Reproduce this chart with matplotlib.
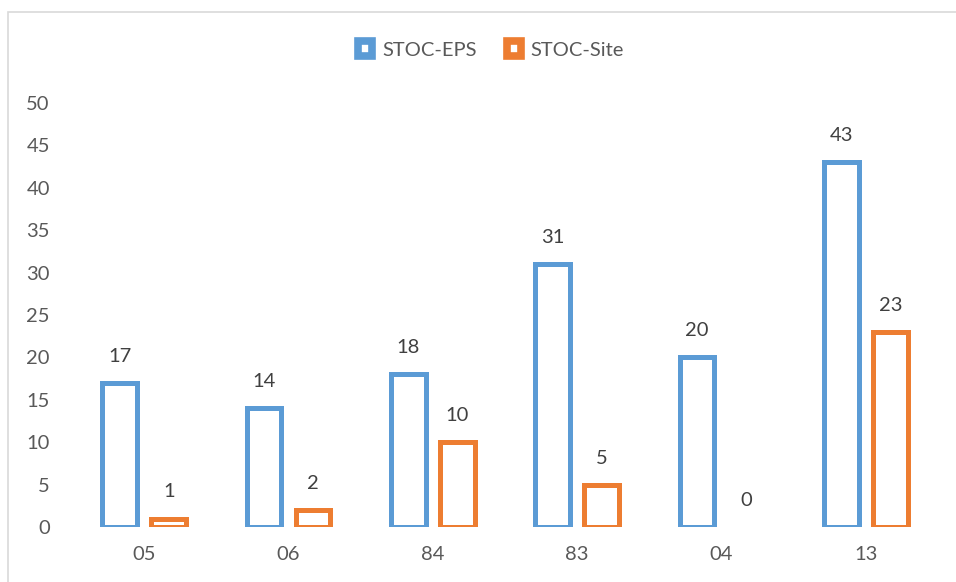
import matplotlib
matplotlib.use("Agg")
import matplotlib.pyplot as plt
import numpy as np
from matplotlib.patches import Rectangle, Patch

categories = ["05", "06", "84", "83", "04", "13"]
eps = [17, 14, 18, 31, 20, 43]
site = [1, 2, 10, 5, 0, 23]
series_names = ["STOC-EPS", "STOC-Site"]
yticks = [0, 5, 10, 15, 20, 25, 30, 35, 40, 45, 50]

blue = "#5B9BD5"
orange = "#ED7D31"
plt.rcParams['font.family'] = ['Lato', 'DejaVu Sans']

fig = plt.figure(figsize=(9.56, 5.82), dpi=100)
ax = fig.add_axes([72/956, 1-527/582, (938-72)/956, (527-103)/582])

# figure border
fig.patches.append(Rectangle((8/956, -0.1), 1.2, 1-12/582+0.1, transform=fig.transFigure,
                             fill=False, edgecolor="#D9D9D9", linewidth=1.2))

x = np.arange(len(categories))
w = 0.24
off = 0.17
lw = 3.6
b1 = ax.bar(x - off, eps, width=w, facecolor="white", edgecolor=blue,
            linewidth=[lw if v > 0 else 0 for v in eps])
b2 = ax.bar(x + off, site, width=w, facecolor="white", edgecolor=orange,
            linewidth=[lw if v > 0 else 0 for v in site])
for bars, vals in ((b1, eps), (b2, site)):
    for b, v in zip(bars, vals):
        ax.annotate(str(v), (b.get_x() + b.get_width()/2, v), xytext=(0, 13),
                    textcoords="offset points", ha="center", va="bottom",
                    fontsize=14.5, color="#404040")

ax.set_xlim(-0.5, len(categories) - 0.5)
ax.set_ylim(0, 50)
ax.set_yticks(yticks)
ax.set_xticks(x)
ax.set_xticklabels(categories)
ax.tick_params(axis="both", length=0, labelsize=14.5, labelcolor="#595959")
ax.tick_params(axis="x", pad=14)
ax.tick_params(axis="y", pad=16)
for s in ax.spines.values():
    s.set_visible(False)

handles = [Patch(facecolor="white", edgecolor=blue, linewidth=5.5),
           Patch(facecolor="white", edgecolor=orange, linewidth=5.5)]
fig.legend(handles, series_names, loc="center", bbox_to_anchor=(491/956, 1-50/582),
           ncol=2, frameon=False, fontsize=14.5, labelcolor="#595959",
           handlelength=0.7, handleheight=0.7, handletextpad=0.5, columnspacing=1.5)

fig.savefig("out.png", dpi=100)
